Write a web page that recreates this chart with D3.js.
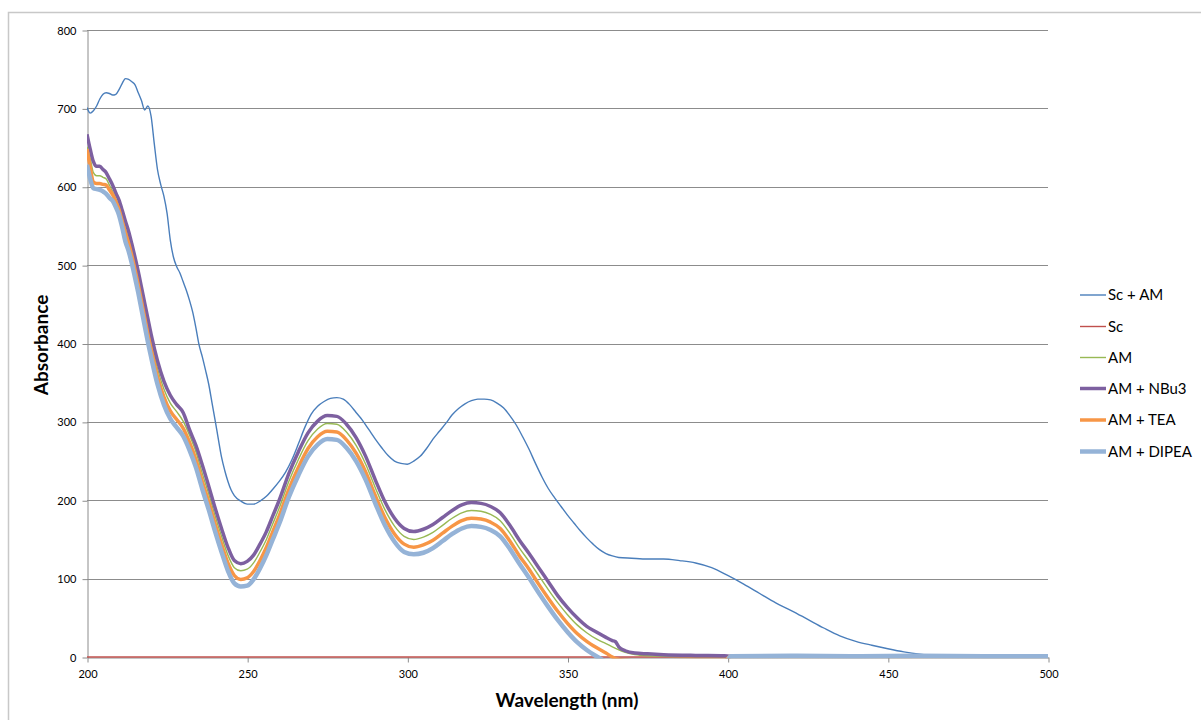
<!DOCTYPE html>
<html>
<head>
<meta charset="utf-8">
<script src="https://cdn.jsdelivr.net/npm/d3@7"></script>
<style>
  html, body { margin: 0; padding: 0; background: #ffffff; }
  svg { display: block; }
  text { font-family: Lato, "Open Sans", "Liberation Sans", sans-serif; fill: #000; }
</style>
</head>
<body>
<svg id="chart" width="1201" height="720"></svg>
<script>
// ---------------- DATA ----------------
const seriesNames = ["Sc + AM", "Sc", "AM", "AM + NBu3", "AM + TEA", "AM + DIPEA"];
const xTicks = [200, 250, 300, 350, 400, 450, 500];
const yTicks = [0, 100, 200, 300, 400, 500, 600, 700, 800];

// Sc + AM
const scAmWavelengths = [200,201,202,203,204,205,206,207,208,209,210,211,212,213,214,215,216,217,218,219,220,221,222,223,224,225,226,227,228,229,230,231,232,233,234,235,236,237,238,239,240,241,242,243,244,245,246,248,250,252,254,256,258,260,262,264,266,268,270,272,274,276,278,280,282,284,286,288,290,292,294,296,298,300,302,304,306,308,310,312,314,316,318,320,322,324,326,328,330,332,334,336,338,340,342,344,346,348,350,352,354,356,358,360,362,364,366,370,375,380,385,390,395,400,405,410,415,420,425,430,435,440,445,450,455,460,465,470,475,480,490,500];
const scAmValues = [701,694,697,703,712,718,720,719,717,718,724,732,738,737,734,730,720,710,698,703,690,655,622,603,588,566,532,510,498,490,479,468,455,440,420,398,383,366,348,325,302,278,255,238,224,213,206,199,195,195,199,205,214,224,236,252,272,293,310,320,326,330,331,329,322,312,302,290,278,267,257,250,247,246,250,256,266,278,288,298,309,317,323,327,329,329,328,324,318,308,296,281,265,247,230,215,203,192,181,171,161,152,144,137,132,129,127,126,125,125,123,120,114,104,93,81,69,59,48,37,27,20,15,10.5,6.5,3.5,1.5,0.5,0,0,0,0];

// Sc
const scWavelengths = [200, 250, 300, 350, 400, 450, 500];
const scValues = [0, 0, 0, 0, 0, 0, 0];

// AM family (shared wavelength grid)
const amWavelengths = [200,201,202,203,204,205,206,207,208,209,210,211,212,213,214,215,216,217,218,219,220,222,224,226,228,230,232,234,236,238,240,242,244,246,248,250,252,254,256,258,260,263,266,269,272,275,278,281,284,287,290,293,296,299,302,305,308,311,314,317,320,323,326,329,332,335,338,341,344,347,350,353,356,359,362,364,365,366,368,371,375,380,390,399,401,420,440,460,480,500];
const amValues = [651,636,618,614,614,612,610,602,594,585,576,562,547,534,518,500,482,462,442,422,402,368,342,324,313,301,283,262,234,208,180,154,130,114,110,112,120,134,150,170,190,224,252,276,291,298,297,287,270,246,216,188,167,154,150,153,159,168,177,184,187,186,182,174,158,139,122,104,86,69,54,41,31,23,17,13,11,9,6,3,1.5,1,0.5,0.5,1,1,1,1,1,1];
const nbu3Values = [667,648,632,626,626,622,618,610,602,592,583,570,556,543,527,510,492,472,452,432,412,378,352,334,322,312,290,270,245,218,190,164,140,123,119,122,130,144,160,180,200,234,262,286,301,308,307,297,280,256,226,198,177,164,160,163,169,178,187,194,197,196,192,184,168,149,132,114,96,78,63,50,39,32,25,21,19.5,13,8,5,4,3,2,1.5,1,1,1,1,1,1];
const teaValues = [648,625,606,604,604,603,602,596,590,581,571,556,541,528,512,494,475,454,433,412,393,358,332,314,303,292,274,252,224,198,170,144,120,104,99,101,109,123,140,160,180,214,242,266,281,288,287,277,260,236,206,178,157,144,140,143,149,158,167,174,177,176,172,164,148,129,112,93,75,58,43,30,20,12,5,0,-2,-3,-4,-5,-5,-5,-4,-4,1,1.5,1,1.5,1,1];
const dipeaValues = [628,610,598,597,596,594,591,586,582,574,564,548,530,518,502,484,465,444,423,402,383,348,322,304,293,282,264,242,214,188,160,134,110,94,90,91,99,113,130,150,170,204,232,256,271,278,277,267,250,226,196,168,147,134,131,133,139,148,157,164,167,166,162,154,138,119,101,82,64,47,32,19,9,1,-6,-10,-10,-10,-10,-10,-10,-10,-10,-10,1,1.5,1,1.5,1,1];

// ---------------- CHART ----------------
const svg = d3.select("#chart");

// outer chart border
svg.append("rect")
  .attr("x", 8.5).attr("y", 12.5)
  .attr("width", 1220).attr("height", 740)
  .attr("fill", "none").attr("stroke", "#c8c8c8").attr("stroke-width", 1.5);

const x = d3.scaleLinear().domain([200, 500]).range([87, 1048]);
const y = d3.scaleLinear().domain([0, 800]).range([657, 30]);

// gridlines
svg.append("g")
  .selectAll("line")
  .data(yTicks.filter(d => d > 0))
  .join("line")
  .attr("x1", x(200)).attr("x2", x(500))
  .attr("y1", d => Math.round(y(d)) + 0.5).attr("y2", d => Math.round(y(d)) + 0.5)
  .attr("stroke", "#8c8c8c").attr("stroke-width", 1);

// y axis
const yAxis = svg.append("g")
  .attr("transform", `translate(${x(200) + 0.5},0.5)`)
  .call(d3.axisLeft(y).tickValues(yTicks).tickSize(5).tickSizeOuter(0).tickPadding(6));
yAxis.select(".domain").attr("stroke", "#8c8c8c");
yAxis.selectAll(".tick line").attr("stroke", "#8c8c8c");
yAxis.selectAll(".tick text").attr("font-size", "11px").attr("fill", "#000")
  .style("font-family", "Lato, 'Liberation Sans', sans-serif");

// x axis
const xAxis = svg.append("g")
  .attr("transform", `translate(0.5,${y(0) + 0.5})`)
  .call(d3.axisBottom(x).tickValues(xTicks).tickSize(5).tickSizeOuter(0).tickPadding(8));
xAxis.select(".domain").attr("stroke", "#8c8c8c");
xAxis.selectAll(".tick line").attr("stroke", "#8c8c8c");
xAxis.selectAll(".tick text").attr("font-size", "11px").attr("fill", "#000")
  .style("font-family", "Lato, 'Liberation Sans', sans-serif");

// clip
svg.append("defs").append("clipPath").attr("id", "plotClip")
  .append("rect").attr("x", x(200)).attr("y", y(800) - 3)
  .attr("width", x(500) - x(200) + 2).attr("height", y(0) - y(800) + 4.5);

const line = d3.line()
  .x(d => x(d[0]))
  .y(d => y(d[1]))
  .curve(d3.curveMonotoneX);

const zip = (ws, vs) => ws.map((w, i) => [w, vs[i]]);

const series = [
  { name: seriesNames[0], data: zip(scAmWavelengths, scAmValues), color: "#4a7ebb", width: 1.4 },
  { name: seriesNames[1], data: zip(scWavelengths, scValues), color: "#c0504d", width: 1.4 },
  { name: seriesNames[2], data: zip(amWavelengths, amValues), color: "#98b954", width: 1.4 },
  { name: seriesNames[3], data: zip(amWavelengths, nbu3Values), color: "#7d60a0", width: 3.5 },
  { name: seriesNames[4], data: zip(amWavelengths, teaValues), color: "#f79646", width: 3.5 },
  { name: seriesNames[5], data: zip(amWavelengths, dipeaValues), color: "#95b3d7", width: 4.5 }
];

const plot = svg.append("g").attr("clip-path", "url(#plotClip)");
plot.selectAll("path")
  .data(series)
  .join("path")
  .attr("d", d => line(d.data))
  .attr("fill", "none")
  .attr("stroke", d => d.color)
  .attr("stroke-width", d => d.width)
  .attr("stroke-linejoin", "round");

// legend
const legendY = [295, 326.5, 357.5, 388.5, 420, 451.5];
const legend = svg.append("g");
series.forEach((s, i) => {
  legend.append("line")
    .attr("x1", 1080).attr("x2", 1106)
    .attr("y1", legendY[i]).attr("y2", legendY[i])
    .attr("stroke", s.color).attr("stroke-width", s.width);
  legend.append("text")
    .attr("x", 1108).attr("y", legendY[i])
    .attr("dy", "0.35em")
    .attr("font-size", "15px")
    .text(s.name);
});

// axis titles
svg.append("text")
  .attr("x", 567).attr("y", 700)
  .attr("text-anchor", "middle").attr("dy", "0.35em")
  .attr("font-size", "19px").attr("font-weight", "bold")
  .text("Wavelength (nm)");

svg.append("text")
  .attr("transform", "translate(41,345) rotate(-90)")
  .attr("text-anchor", "middle").attr("dy", "0.35em")
  .attr("font-size", "19px").attr("font-weight", "bold")
  .text("Absorbance");
</script>
</body>
</html>
